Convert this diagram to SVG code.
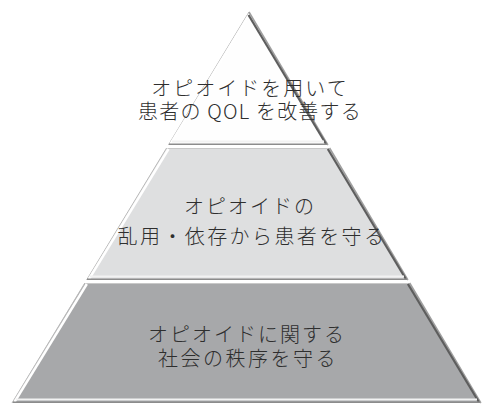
<svg xmlns="http://www.w3.org/2000/svg" width="484" height="407" viewBox="0 0 484 407">
<style>
.t{font-family:"Noto Sans CJK JP","Noto Sans",sans-serif;font-size:20px;font-weight:300;letter-spacing:2px;fill:#2e2e2e;text-anchor:middle}
.lo{stroke:#b8b8b8;stroke-width:1;fill:none}
.li{stroke:#ffffff;stroke-width:2.5;fill:none}
.ro{stroke:#a0a0a0;stroke-width:1.5;fill:none}
.ri{stroke:#5e5e5e;stroke-width:2.2;fill:none}
.bl{stroke:#f2f2f2;stroke-width:2;fill:none}
.bd{stroke:#8c8c8c;stroke-width:1.5;fill:none}
.tp{stroke:#c8c8c8;stroke-width:1;fill:none}
</style>
<rect width="484" height="407" fill="#ffffff"/>
<g id="tier1">
<polygon points="249,12 168.4,145 327.9,145" fill="#fefefe"/>
<line class="lo" x1="249" y1="12" x2="168.4" y2="145"/>
<line class="li" x1="249" y1="15" x2="170.5" y2="144"/>
<line class="ro" x1="249" y1="12" x2="327.9" y2="145"/>
<line class="ri" x1="248.5" y1="15" x2="326" y2="144"/>
<line class="bl" x1="172" y1="141.5" x2="324" y2="141.5"/>
<line class="bd" x1="169" y1="144.2" x2="327" y2="144.2"/>
<text class="t"><tspan x="250" y="96">オピオイドを用いて</tspan><tspan x="250" y="119" letter-spacing="1.2">患者の QOL を改善する</tspan></text>
</g>
<g id="tier2">
<polygon points="166.6,148 329.6,148 407.9,280 86.6,280" fill="#dedfe0"/>
<line class="tp" x1="167" y1="148.5" x2="329" y2="148.5"/>
<line class="lo" x1="166.6" y1="148" x2="86.6" y2="280"/>
<line class="li" x1="168.5" y1="149" x2="89" y2="279"/>
<line class="ro" x1="329.6" y1="148" x2="407.9" y2="280"/>
<line class="ri" x1="327.8" y1="149" x2="405.8" y2="279"/>
<line class="bl" x1="90" y1="276.5" x2="404" y2="276.5"/>
<line class="bd" x1="87" y1="279.2" x2="407" y2="279.2"/>
<text class="t"><tspan x="250" y="214">オピオイドの</tspan><tspan x="252" y="244" letter-spacing="2.4">乱用・依存から患者を守る</tspan></text>
</g>
<g id="tier3">
<polygon points="84.8,283 409.7,283 480.9,403 12,403" fill="#a7a8aa"/>
<line class="tp" x1="85" y1="283.5" x2="409" y2="283.5"/>
<line class="lo" x1="84.8" y1="283" x2="12" y2="403"/>
<line class="li" x1="86.8" y1="284" x2="14.5" y2="402"/>
<line class="ro" x1="409.7" y1="283" x2="480.9" y2="403"/>
<line class="ri" x1="407.9" y1="284" x2="478.8" y2="402"/>
<line class="bl" x1="16" y1="399.5" x2="477" y2="399.5"/>
<line class="bd" x1="13" y1="402.2" x2="480" y2="402.2"/>
<text class="t"><tspan x="247" y="342">オピオイドに関する</tspan><tspan x="248" y="366" letter-spacing="2.5">社会の秩序を守る</tspan></text>
</g>
<g id="connectors"/>
</svg>
